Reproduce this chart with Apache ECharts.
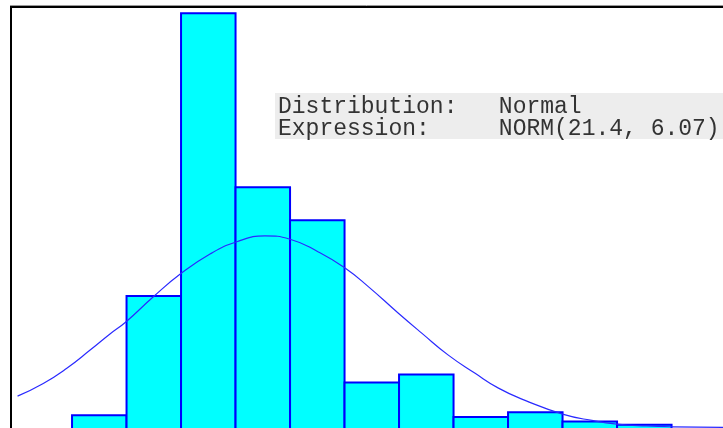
<!DOCTYPE html>
<html>
<head>
<meta charset="utf-8">
<script src="https://cdn.jsdelivr.net/npm/echarts@6/dist/echarts.min.js"></script>
<style>
    html, body { margin: 0; padding: 0; background: #fff; }
    #chart { width: 723px; height: 428px; }
</style>
</head>
<body>
<div id="chart"></div>
<script>
// histogram bins (lower edge, upper edge) and heights
var binStart = [12.5, 15, 17.5, 20, 22.5, 25, 27.5, 30, 32.5, 35, 37.5];
var binEnd = [15, 17.5, 20, 22.5, 25, 27.5, 30, 32.5, 35, 37.5, 40];
var binHeight = [3.5, 31.7, 98.5, 57.4, 49.6, 11.2, 13.1, 3.1, 4.2, 2.0, 1.25];

// fitted curve
var curveX = [10, 11.18, 12.26, 13.33, 14.24, 14.98, 16.23, 17.45, 18.83, 20.06, 21.35, 22.5,
    23.8, 24.99, 26.09, 27.47, 28.54, 29.76, 30.99, 32.06, 33.28, 35.04, 36.41, 37.49, 38.86,
    40.08, 42.4];
var curveY = [8.0, 11.0, 14.6, 18.9, 22.7, 25.6, 31.5, 36.8, 41.6, 44.5, 45.9, 45.1,
    42.1, 38.4, 33.9, 27.6, 22.9, 17.7, 13.4, 9.9, 7.0, 3.7, 2.2, 1.4, 0.95,
    0.75, 0.62];

var infoLines = ['Distribution:   Normal', 'Expression:     NORM(21.4, 6.07)'];

var histData = [];
for (var i = 0; i < binStart.length; i++) {
    histData.push([binStart[i], binEnd[i], binHeight[i]]);
}
var curveData = [];
for (var j = 0; j < curveX.length; j++) {
    curveData.push([curveX[j], curveY[j]]);
}

var chart = echarts.init(document.getElementById('chart'));
var option = {
    animation: false,
    grid: {
        left: 11,
        top: 7,
        right: 0,
        bottom: 0,
        show: false
    },
    xAxis: {
        type: 'value',
        min: 9.7,
        max: 42.36,
        show: false
    },
    yAxis: {
        type: 'value',
        min: 0.47,
        max: 100,
        show: false
    },
    series: [
        {
            type: 'custom',
            data: histData,
            renderItem: function (params, api) {
                var p0 = api.coord([api.value(0), api.value(2)]);
                var p1 = api.coord([api.value(1), 0]);
                return {
                    type: 'rect',
                    shape: { x: p0[0], y: p0[1], width: p1[0] - p0[0], height: p1[1] - p0[1] },
                    style: { fill: '#00ffff', stroke: '#0000ff', lineWidth: 2 }
                };
            },
            z: 2
        },
        {
            type: 'line',
            data: curveData,
            smooth: true,
            showSymbol: false,
            lineStyle: { color: '#2a2aff', width: 1.2 },
            z: 3
        }
    ],
    graphic: [
        // plot frame (only left and top edges are in view)
        {
            type: 'line',
            shape: { x1: 10, y1: 5.5, x2: 723, y2: 5.5 },
            style: { stroke: '#999', lineWidth: 1 },
            z: 20
        },
        {
            type: 'line',
            shape: { x1: 10, y1: 7, x2: 723, y2: 7 },
            style: { stroke: '#000', lineWidth: 2 },
            z: 20
        },
        {
            type: 'line',
            shape: { x1: 11, y1: 6, x2: 11, y2: 428 },
            style: { stroke: '#000', lineWidth: 2 },
            z: 20
        },
        {
            type: 'rect',
            left: 275,
            top: 93,
            shape: { width: 450, height: 46 },
            style: { fill: '#ededed' },
            z: 10
        },
        {
            type: 'text',
            left: 278,
            top: 95,
            style: {
                text: infoLines.join('\n'),
                font: '23px "Liberation Mono", monospace',
                lineHeight: 22,
                fill: '#333'
            },
            z: 11
        }
    ]
};
chart.setOption(option);
</script>
</body>
</html>
